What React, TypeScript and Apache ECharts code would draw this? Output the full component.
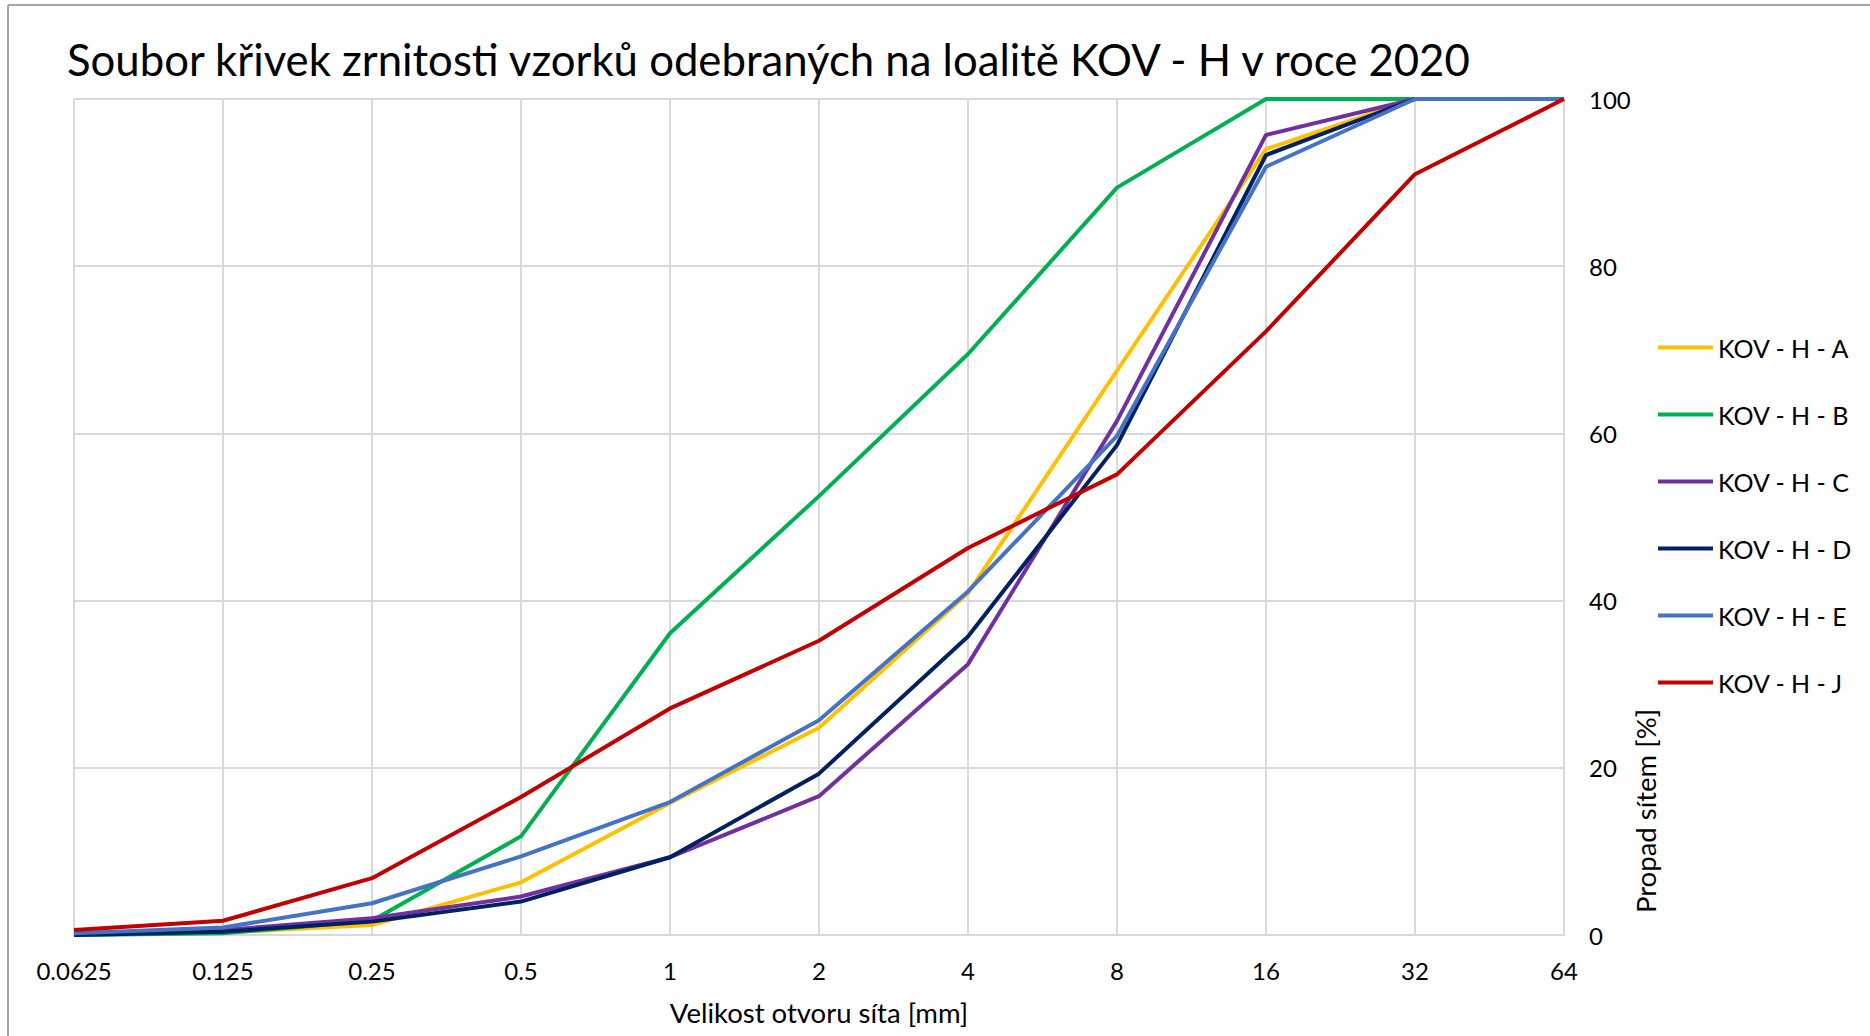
import React, { useEffect, useRef } from "react";
import * as echarts from "echarts";

const categories = ["0.0625", "0.125", "0.25", "0.5", "1", "2", "4", "8", "16", "32", "64"];
const seriesNames = ["KOV - H - A", "KOV - H - B", "KOV - H - C", "KOV - H - D", "KOV - H - E", "KOV - H - J"];
const valuesA = [0, 0.3, 1.2, 6.3, 15.8, 24.8, 40.9, 67.5, 94.0, 100, 100];
const valuesB = [0, 0.2, 1.7, 11.8, 36.1, 52.5, 69.5, 89.4, 100, 100, 100];
const valuesC = [0.2, 0.6, 2.0, 4.6, 9.3, 16.6, 32.4, 61.5, 95.7, 100, 100];
const valuesD = [0, 0.4, 1.6, 4.0, 9.3, 19.3, 35.7, 58.6, 93.3, 100, 100];
const valuesE = [0.2, 0.9, 3.8, 9.4, 15.9, 25.7, 41.1, 59.7, 91.9, 100, 100];
const valuesJ = [0.6, 1.7, 6.8, 16.5, 27.1, 35.2, 46.3, 55.1, 72.2, 91.0, 100];
const seriesColors = ["#FFC000", "#00B050", "#7030A0", "#002060", "#4472C4", "#C00000"];

const titleText = "Soubor křivek zrnitosti vzorků odebraných na loalitě KOV - H v roce 2020";
const xAxisTitle = "Velikost otvoru síta [mm]";
const yAxisTitle = "Propad sítem [%]";

const FONT = "Lato, 'Noto Sans', sans-serif";

export default function App() {
  const ref = useRef<HTMLDivElement>(null);
  useEffect(() => {
    if (!ref.current) return;
    const chart = echarts.init(ref.current, null, { renderer: "svg" });
    const allValues = [valuesA, valuesB, valuesC, valuesD, valuesE, valuesJ];
    chart.setOption({
      animation: false,
      backgroundColor: "#ffffff",
      title: {
        text: titleText,
        left: 62,
        top: 32,
        textStyle: { fontFamily: FONT, fontSize: 43.7, fontWeight: "normal", color: "#000000" },
      },
      legend: {
        orient: "vertical",
        left: 1653,
        top: 330,
        itemWidth: 55,
        itemHeight: 4,
        itemGap: 42,
        icon: "rect",
        data: seriesNames,
        textStyle: { fontFamily: FONT, fontSize: 25, color: "#000000", lineHeight: 25 },
      },
      grid: { left: 74, right: 1870 - 1564, top: 99, bottom: 1036 - 935, containLabel: false },
      xAxis: {
        type: "category",
        data: categories,
        boundaryGap: false,
        name: xAxisTitle,
        nameLocation: "middle",
        nameGap: 77,
        nameTextStyle: { fontFamily: FONT, fontSize: 27.5, color: "#000000", verticalAlign: "middle" },
        axisLine: { show: true, lineStyle: { color: "#d9d9d9", width: 2 } },
        axisTick: { show: false },
        axisLabel: { fontFamily: FONT, fontSize: 24, color: "#000000", margin: 23 },
        splitLine: { show: true, lineStyle: { color: "#d9d9d9", width: 2 } },
      },
      yAxis: {
        type: "value",
        position: "right",
        min: 0,
        max: 100,
        interval: 20,
        axisLine: { show: false },
        axisTick: { show: false },
        axisLabel: { fontFamily: FONT, fontSize: 24, color: "#000000", margin: 25, align: "left" },
        splitLine: { show: true, lineStyle: { color: "#d9d9d9", width: 2 } },
      },
      graphic: [
        {
          type: "text",
          x: 1645,
          y: 811,
          rotation: Math.PI / 2,
          style: {
            text: yAxisTitle,
            fontFamily: FONT,
            fontSize: 27.5,
            fill: "#000000",
            align: "center",
            verticalAlign: "middle",
          },
        },
        {
          type: "line",
          shape: { x1: 8, y1: 5, x2: 1870, y2: 5 },
          style: { stroke: "#a6a6a6", lineWidth: 2 },
        },
        {
          type: "line",
          shape: { x1: 8, y1: 5, x2: 8, y2: 1036 },
          style: { stroke: "#a6a6a6", lineWidth: 2 },
        },
      ],
      series: seriesNames.map((name, i) => ({
        name,
        type: "line",
        data: allValues[i],
        symbol: "none",
        color: seriesColors[i],
        itemStyle: { color: seriesColors[i] },
        lineStyle: { width: 4, color: seriesColors[i] },
      })),
    });
    return () => chart.dispose();
  }, []);
  return (
    <div
      ref={ref}
      style={{ position: "absolute", left: 0, top: 0, width: 1870, height: 1036 }}
    />
  );
}
